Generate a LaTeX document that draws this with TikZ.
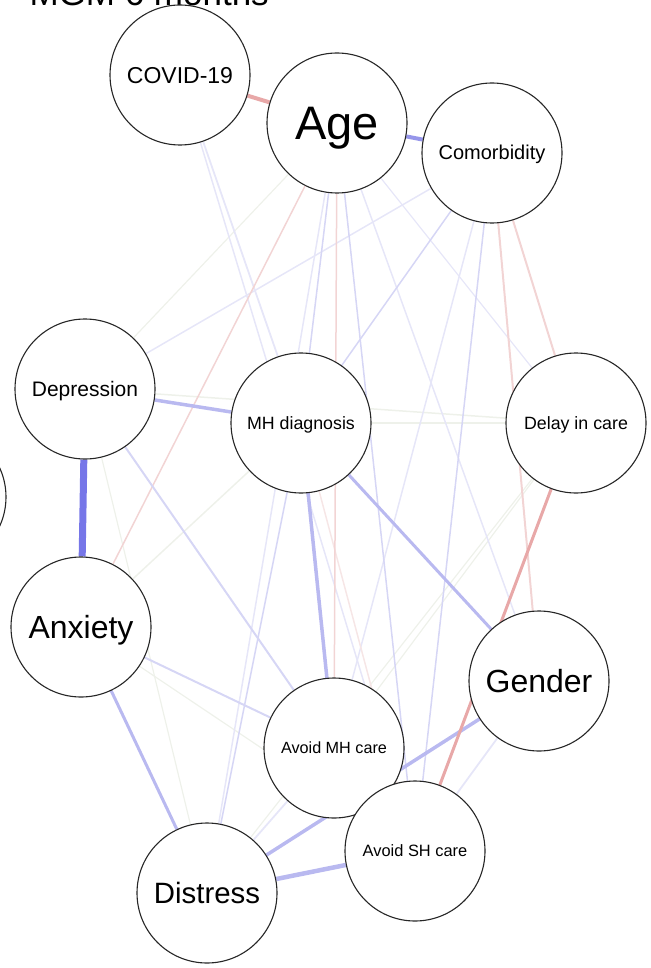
\documentclass[tikz,border=0pt]{standalone}
\usepackage{fontspec}
\setmainfont{Liberation Sans}
\usetikzlibrary{backgrounds}

\definecolor{blueS}{RGB}{118,118,232}
\definecolor{blueA}{RGB}{150,150,234}
\definecolor{blueM}{RGB}{185,185,240}
\definecolor{blueL}{RGB}{214,214,245}
\definecolor{blueF}{RGB}{230,230,248}
\definecolor{redM}{RGB}{232,168,168}
\definecolor{redL}{RGB}{242,212,212}
\definecolor{redF}{RGB}{246,230,230}
\definecolor{greyF}{RGB}{238,241,234}

\begin{document}
\begin{tikzpicture}[x=1pt,y=-1pt,
    var/.style={circle,draw=black!85,line width=1.1pt,fill=white,
        minimum size=140pt,inner sep=0pt,text depth=0pt}]
    \useasboundingbox (0,0) rectangle (650,968);

    \node (title) [anchor=base west,font=\fontsize{35}{35}\selectfont] at (26,6) {MGM 6 months};

    \node[var] (lft) at (-64,497) {};
    \node[var,font=\fontsize{23}{23}\selectfont,text height=16.1pt] (cov) at (180,75) {COVID-19};
    \node[var,font=\fontsize{47}{47}\selectfont,text height=33pt] (age) at (337,123) {Age};
    \node[var,font=\fontsize{20}{20}\selectfont,text height=14pt] (com) at (492,153) {Comorbidity};
    \node[var,font=\fontsize{21}{21}\selectfont,text height=14.7pt] (dep) at (85,389) {Depression};
    \node[var,font=\fontsize{17.8}{17.8}\selectfont,text height=12.5pt] (mhd) at (301,423) {MH diagnosis};
    \node[var,font=\fontsize{17.8}{17.8}\selectfont,text height=12.5pt] (del) at (576,423) {Delay in care};
    \node[var,font=\fontsize{32}{32}\selectfont,text height=22.4pt] (anx) at (81,627) {Anxiety};
    \node[var,font=\fontsize{32}{32}\selectfont,text height=22.4pt] (gen) at (539,681) {Gender};
    \node[var,font=\fontsize{16.2}{16.2}\selectfont,text height=11.3pt] (amh) at (334,748) {Avoid MH care};
    \node[var,font=\fontsize{16.4}{16.4}\selectfont,text height=11.5pt] (ash) at (415,851) {Avoid SH care};
    \node[var,font=\fontsize{29.4}{29.4}\selectfont,text height=20.6pt] (dis) at (207,893) {Distress};

    \begin{scope}[on background layer]
        \foreach \a/\b/\c/\w in {
            dep/del/greyF/1.5, mhd/del/greyF/1.5, mhd/anx/greyF/1.5,
            anx/ash/greyF/1.2, del/amh/greyF/1.2, del/dis/greyF/1.2,
            dep/dis/greyF/1.2, age/dep/greyF/1.2,
            cov/mhd/blueF/1.8, cov/ash/blueF/1.5, age/dis/blueF/1.5,
            age/gen/blueF/1.5, age/del/blueF/1.2, com/dep/blueF/1.5,
            com/amh/blueF/1.5, gen/ash/blueF/1.8, dis/amh/blueF/1.8,
            mhd/ash/redF/1.5,
            age/anx/redL/1.5, age/amh/redL/1.5, com/del/redL/2, com/gen/redL/2,
            age/mhd/blueL/1.5, age/ash/blueL/1.5, com/mhd/blueL/1.5,
            com/ash/blueL/1.5, mhd/dis/blueL/1.5, dep/amh/blueL/2, anx/amh/blueL/2,
            dep/mhd/blueM/3.5, mhd/gen/blueM/3, mhd/amh/blueM/3.5,
            anx/dis/blueM/3, dis/ash/blueM/4.5, dis/gen/blueM/3.5,
            del/ash/redM/3, cov/age/redM/4,
            age/com/blueA/4, dep/anx/blueS/7}{
            \draw[\c,line width=\w pt] (\a) -- (\b);
        }
    \end{scope}
\end{tikzpicture}
\end{document}
